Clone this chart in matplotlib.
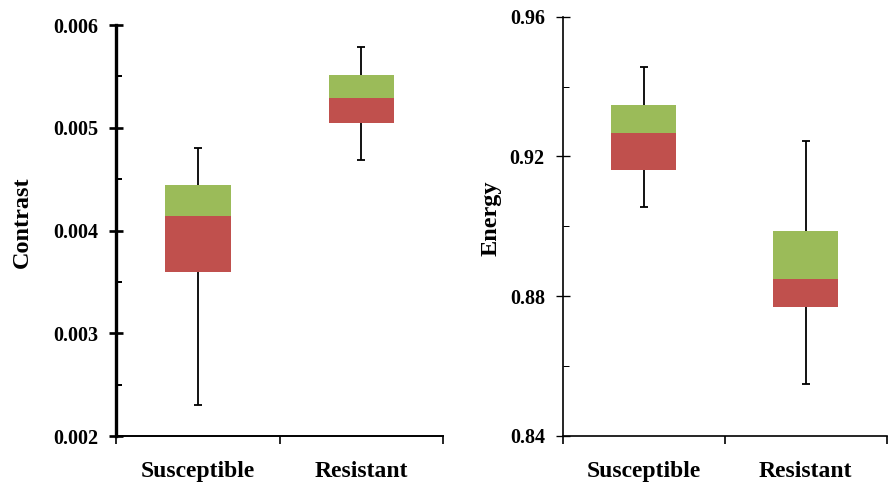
import matplotlib.pyplot as plt
from matplotlib.ticker import MultipleLocator, FixedLocator

groups = ['Susceptible', 'Resistant']

# contrast: min, q1, median, q3, max
contrast_min = [0.00230, 0.00469]
contrast_q1 = [0.00360, 0.00505]
contrast_med = [0.00414, 0.00529]
contrast_q3 = [0.00444, 0.00551]
contrast_max = [0.00480, 0.00579]

# energy: min, q1, median, q3, max
energy_min = [0.9054, 0.8548]
energy_q1 = [0.9161, 0.8770]
energy_med = [0.9267, 0.8849]
energy_q3 = [0.9347, 0.8986]
energy_max = [0.9456, 0.9244]

RED = '#C0504D'
GREEN = '#9BBB59'

plt.rcParams['font.family'] = ['Liberation Serif', 'DejaVu Serif']
plt.rcParams['font.weight'] = 'bold'


def box_panel(ax, lo, q1, med, q3, hi, ylim, major, minor, ylabel, fmt, lw_left, lw_bottom):
	pos = [0.5, 1.5]
	# whiskers behind the boxes
	err_lo = [m - l for m, l in zip(med, lo)]
	err_hi = [h - m for m, h in zip(med, hi)]
	ax.errorbar(pos, med, yerr=[err_lo, err_hi], fmt='none', ecolor='black',
				elinewidth=1.3, capsize=2.8, capthick=1.3, zorder=1)
	ax.bar(pos, [m - a for m, a in zip(med, q1)], bottom=q1, width=0.4, color=RED, zorder=2)
	ax.bar(pos, [b - m for m, b in zip(med, q3)], bottom=med, width=0.4, color=GREEN, zorder=2)

	ax.set_xlim(0, 2)
	ax.set_ylim(*ylim)
	ax.xaxis.set_major_locator(FixedLocator([0, 1, 2]))
	ax.xaxis.set_minor_locator(FixedLocator(pos))
	ax.set_xticklabels([], minor=False)
	ax.set_xticklabels(groups, minor=True, fontsize=17, fontweight='bold')
	ax.tick_params(axis='x', which='major', direction='out', length=6, width=1.2)
	ax.tick_params(axis='x', which='minor', length=0, pad=18)

	ax.yaxis.set_major_locator(MultipleLocator(major))
	ax.yaxis.set_minor_locator(MultipleLocator(minor))
	ax.yaxis.set_major_formatter(fmt)
	ax.tick_params(axis='y', which='major', direction='inout', length=10, width=lw_left * 0.8,
				   labelsize=14.5, pad=8)
	ax.tick_params(axis='y', which='minor', direction='in', length=4, width=lw_left * 0.6)
	for t in ax.get_yticklabels():
		t.set_fontweight('bold')

	ax.set_ylabel(ylabel, fontsize=17.5, fontweight='bold')
	for s in ['top', 'right']:
		ax.spines[s].set_visible(False)
	ax.spines['left'].set_linewidth(lw_left)
	ax.spines['bottom'].set_linewidth(lw_bottom)


fig = plt.figure(figsize=(8.92, 4.83), dpi=100)
ax1 = fig.add_axes([0.130, 0.097, 0.367, 0.851])
ax2 = fig.add_axes([0.631, 0.098, 0.363, 0.867])

box_panel(ax1, contrast_min, contrast_q1, contrast_med, contrast_q3, contrast_max,
		  (0.002, 0.006), 0.001, 0.0005, 'Contrast', '{x:.3f}', 2.4, 1.4)
box_panel(ax2, energy_min, energy_q1, energy_med, energy_q3, energy_max,
		  (0.84, 0.96), 0.04, 0.02, 'Energy', '{x:.2f}', 1.2, 1.2)

ax1.yaxis.set_label_coords(-0.255, 0.52)
ax2.yaxis.set_label_coords(-0.19, 0.52)

fig.savefig('out.png', dpi=100)
